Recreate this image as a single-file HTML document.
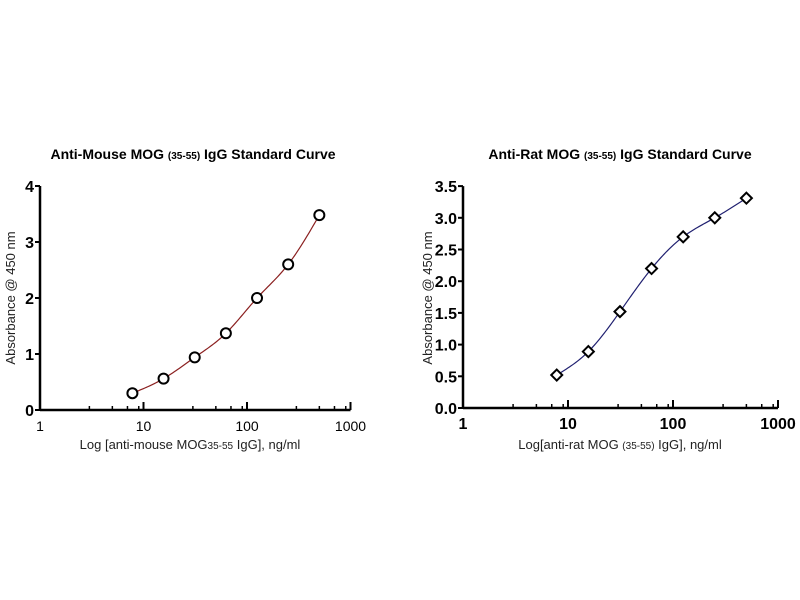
<!DOCTYPE html>
<html><head><meta charset="utf-8"><style>
html,body{margin:0;padding:0;background:#fff;width:800px;height:600px;overflow:hidden}
text{font-family:"Liberation Sans",Arial,sans-serif}
</style></head><body>
<svg id="s" width="800" height="600" xmlns="http://www.w3.org/2000/svg">
<text x="193" y="159" font-size="14" font-weight="bold" text-anchor="middle">Anti-Mouse MOG <tspan font-size="10">(35-55)</tspan> IgG Standard Curve</text>
<text x="620" y="159" font-size="14" font-weight="bold" text-anchor="middle">Anti-Rat MOG <tspan font-size="10">(35-55)</tspan> IgG Standard Curve</text>
<text x="190" y="449" font-size="13" text-anchor="middle" fill="#222">Log [anti-mouse MOG<tspan font-size="10">35-55</tspan> IgG], ng/ml</text>
<text x="620" y="449" font-size="13" text-anchor="middle" fill="#222">Log[anti-rat MOG <tspan font-size="10">(35-55)</tspan> IgG], ng/ml</text>
<text transform="translate(15,298) rotate(-90)" font-size="13" text-anchor="middle" fill="#222">Absorbance @ 450 nm</text>
<text transform="translate(432,298) rotate(-90)" font-size="13" text-anchor="middle" fill="#222">Absorbance @ 450 nm</text>
</svg>
<script>
const s=document.getElementById('s');const NS='http://www.w3.org/2000/svg';
function el(t,a,txt){const e=document.createElementNS(NS,t);for(const k in a)e.setAttribute(k,a[k]);if(txt!==undefined)e.textContent=txt;s.appendChild(e);return e;}
const xs=[7.8125,15.625,31.25,62.5,125,250,500];
function spline(x,y){const n=x.length,h=[],a=[],l=[1],mu=[0],z=[0],c=new Array(n).fill(0),b=[],d=[];
 for(let i=0;i<n-1;i++)h[i]=x[i+1]-x[i];
 for(let i=1;i<n-1;i++)a[i]=3/h[i]*(y[i+1]-y[i])-3/h[i-1]*(y[i]-y[i-1]);
 for(let i=1;i<n-1;i++){l[i]=2*(x[i+1]-x[i-1])-h[i-1]*mu[i-1];mu[i]=h[i]/l[i];z[i]=(a[i]-h[i-1]*z[i-1])/l[i];}
 for(let j=n-2;j>=0;j--){c[j]=(j<n-1&&j>0?z[j]-mu[j]*c[j+1]:0);if(j===0)c[j]=0;b[j]=(y[j+1]-y[j])/h[j]-h[j]*(c[j+1]+2*c[j])/3;d[j]=(c[j+1]-c[j])/(3*h[j]);}
 return t=>{let i=0;while(i<n-2&&t>x[i+1])i++;const dx=t-x[i];return y[i]+b[i]*dx+c[i]*dx*dx+d[i]*dx*dx*dx;};}
function chart(o){
 const X=v=>o.x0+Math.log10(v)*o.dec, Y=v=>o.y0-v*o.u;
 el('line',{x1:o.x0,y1:o.y0,x2:o.x0+3*o.dec,y2:o.y0,stroke:'#000','stroke-width':2.5});
 el('line',{x1:o.x0,y1:o.y0,x2:o.x0,y2:Y(o.ymax),stroke:'#000','stroke-width':2.5});
 for(let d=0;d<3;d++){for(const m of [3,5,7,9]){const x=X(m*Math.pow(10,d));el('line',{x1:x,y1:o.y0,x2:x,y2:o.y0-4,stroke:'#000','stroke-width':1.5});}}
 for(let d=0;d<=3;d++){const x=X(Math.pow(10,d));el('line',{x1:x,y1:o.y0,x2:x,y2:o.y0-8,stroke:'#000','stroke-width':2});
  el('text',{x:x,y:o.y0+21,'font-size':o.fs,'text-anchor':'middle','font-weight':o.bold?'bold':'normal'},String(Math.pow(10,d)));}
 o.yt.forEach(v=>{const y=Y(v);el('line',{x1:o.x0-5,y1:y,x2:o.x0,y2:y,stroke:'#000','stroke-width':2});
  el('text',{x:o.x0-6,y:y+6,'font-size':16,'font-weight':'bold','text-anchor':'end'},o.fmt(v));});
 const lx=xs.map(Math.log10),f=spline(lx,o.ys);
 let d='';for(let k=0;k<=120;k++){const t=lx[0]+(lx[6]-lx[0])*k/120;d+=(k?'L':'M')+(o.x0+t*o.dec).toFixed(2)+','+Y(f(t)).toFixed(2);}
 el('path',{d:d,fill:'none',stroke:o.col,'stroke-width':1.2});
 xs.forEach((x,i)=>{const p=[X(x),Y(o.ys[i])];if(o.diamond)el('path',{d:`M${p[0]},${p[1]-5.5}L${p[0]+5.5},${p[1]}L${p[0]},${p[1]+5.5}L${p[0]-5.5},${p[1]}Z`,fill:'#fff',stroke:'#000','stroke-width':2});
  else el('circle',{cx:p[0],cy:p[1],r:5,fill:'#fff',stroke:'#000','stroke-width':2});});
}
chart({x0:40,dec:103.5,y0:410,u:56,ymax:4,yt:[0,1,2,3,4],fmt:v=>String(v),ys:[.3,.56,.94,1.37,2.0,2.6,3.48],col:'#8b2020',fs:14,bold:false});
chart({x0:463,dec:105,y0:408,u:63.4,ymax:3.5,yt:[0,.5,1,1.5,2,2.5,3,3.5],fmt:v=>v.toFixed(1),ys:[.52,.89,1.52,2.2,2.7,3.0,3.31],col:'#202070',fs:16,bold:true,diamond:true});
</script>
</body></html>
